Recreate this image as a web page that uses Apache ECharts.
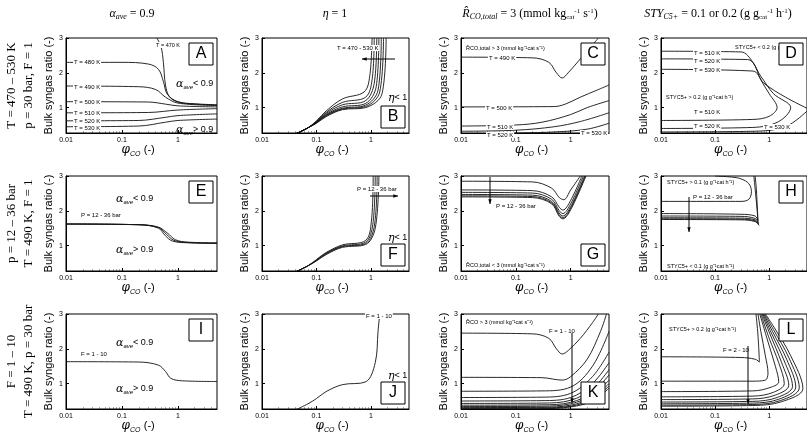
<!DOCTYPE html>
<html><head><meta charset="utf-8">
<script src="https://cdn.jsdelivr.net/npm/echarts@6/dist/echarts.min.js"></script>
<style>html,body{margin:0;padding:0;background:#fff}#c{width:807px;height:439px}</style>
</head><body><div id="c"></div>
<script>
// ---- data (phi_CO, bulk syngas ratio) ----
const xTicks = [0.01, 0.1, 1];
const yTicks = [1, 2, 3];
const rowTitles = [['T = 470 – 530 K', 'p = 30 bar, F = 1'], ['p = 12 – 36 bar', 'T = 490 K, F = 1'], ['F = 1 – 10', 'T = 490 K, p = 30 bar']];

const curvesA = [
 [[0.42,3],[0.5,2.75],[0.55,2.3],[0.6,1.65],[0.7,1.32],[1,1.16],[2,1.1],[5,1.07]],
 [[0.01,2.3],[0.1,2.3],[0.3,2.25],[0.45,2.1],[0.55,1.75],[0.65,1.38],[1,1.17],[2,1.11],[5,1.08]],
 [[0.01,1.62],[0.2,1.6],[0.4,1.52],[0.6,1.3],[1,1.13],[5,1.06]],
 [[0.01,1.17],[0.3,1.16],[0.6,1.1],[1,1.05],[5,1.02]],
 [[0.01,0.85],[0.3,0.86],[1,0.93],[5,0.97]],
 [[0.01,0.62],[0.2,0.63],[0.6,0.72],[1,0.77],[5,0.82]],
 [[0.01,0.45],[0.2,0.47],[0.6,0.58],[1,0.63],[5,0.67]]
];
const curvesB = [
 [[0.042,0.25],[0.07,0.42],[0.1,0.62],[0.15,0.9],[0.3,1.25],[0.75,1.45],[0.95,1.9],[1.05,3]],
 [[0.042,0.25],[0.07,0.42],[0.1,0.6],[0.15,0.86],[0.3,1.15],[0.8,1.3],[1.05,1.8],[1.15,3]],
 [[0.042,0.25],[0.07,0.42],[0.1,0.59],[0.15,0.83],[0.3,1.08],[0.8,1.2],[1.15,1.7],[1.28,3]],
 [[0.042,0.25],[0.07,0.42],[0.1,0.58],[0.15,0.8],[0.3,1.02],[0.8,1.12],[1.25,1.6],[1.4,3]],
 [[0.042,0.25],[0.07,0.42],[0.1,0.57],[0.15,0.78],[0.3,0.98],[0.8,1.07],[1.35,1.5],[1.55,3]],
 [[0.042,0.25],[0.07,0.42],[0.1,0.56],[0.15,0.76],[0.3,0.96],[0.8,1.03],[1.45,1.45],[1.7,3]],
 [[0.042,0.25],[0.07,0.42],[0.1,0.55],[0.15,0.74],[0.3,0.94],[0.8,1.0],[1.6,1.4],[1.9,3]]
];
const curvesC = [
 [[0.01,2.45],[0.2,2.43],[0.4,2.3],[0.55,2.0],[0.7,1.85],[0.9,2.0],[1.5,2.4],[2.5,2.8],[3.2,3.0]],
 [[0.01,1.02],[0.5,1.03],[0.8,1.1],[1.5,1.3],[3,1.5],[5,1.65]],
 [[0.01,0.47],[0.1,0.5],[0.3,0.58],[1,0.8],[2,1.0],[5,1.2]],
 [[0.01,0.32],[0.1,0.35],[0.5,0.45],[1.5,0.6],[5,0.85]],
 [[0.05,0.26],[0.5,0.3],[2,0.38],[5,0.55]]
];
const curvesD = [
 [[0.01,2.62],[0.3,2.6],[0.5,2.3],[0.7,1.8],[1.0,1.4],[1.4,1.0],[1.0,0.75],[0.5,0.66],[0.01,0.63]],
 [[0.01,2.4],[0.4,2.38],[0.7,1.9],[1.2,1.4],[2.5,1.0],[1.5,0.6],[0.5,0.43],[0.01,0.4]],
 [[0.01,2.1],[0.5,2.05],[0.8,1.7],[2,1.3],[5,0.98]],
 [[5,0.9],[2,0.45],[0.5,0.32],[0.01,0.3]]
];
const curvesE = [
 [[0.01,1.62],[0.2,1.6],[0.45,1.5],[0.6,1.28],[0.8,1.13],[1.5,1.08],[5,1.06]],
 [[0.01,1.62],[0.2,1.6],[0.45,1.52],[0.62,1.33],[0.85,1.15],[1.5,1.09],[5,1.07]],
 [[0.01,1.62],[0.2,1.6],[0.45,1.53],[0.65,1.36],[0.9,1.17],[1.5,1.1],[5,1.08]]
];
const curvesF = [
 [[0.042,0.25],[0.07,0.42],[0.1,0.6],[0.15,0.8],[0.3,1.02],[0.8,1.15],[1.02,1.7],[1.1,3]],
 [[0.042,0.25],[0.07,0.42],[0.1,0.58],[0.15,0.78],[0.3,0.99],[0.8,1.1],[1.08,1.6],[1.2,3]],
 [[0.042,0.25],[0.07,0.42],[0.1,0.57],[0.15,0.76],[0.3,0.97],[0.8,1.06],[1.15,1.55],[1.3,3]],
 [[0.042,0.25],[0.07,0.42],[0.1,0.56],[0.15,0.74],[0.3,0.95],[0.8,1.03],[1.2,1.5],[1.4,3]]
];
const curvesG = [
 [[0.01,2.85],[0.2,2.83],[0.45,2.65],[0.62,2.38],[0.75,2.32],[1,2.6],[1.5,3]],
 [[0.01,2.6],[0.2,2.58],[0.45,2.4],[0.62,2.1],[0.72,2.02],[1,2.3],[1.6,3]],
 [[0.01,2.53],[0.2,2.51],[0.45,2.33],[0.62,2.0],[0.72,1.92],[1,2.2],[1.7,3]],
 [[0.01,2.47],[0.2,2.45],[0.45,2.27],[0.62,1.93],[0.72,1.85],[1,2.12],[1.8,3]],
 [[0.01,2.43],[0.2,2.41],[0.45,2.23],[0.62,1.88],[0.72,1.8],[1,2.07],[1.85,3]],
 [[0.01,2.4],[0.2,2.38],[0.45,2.2],[0.62,1.84],[0.72,1.77],[1,2.03],[1.9,3]]
];
const curvesH = [
 [[0.01,2.27],[0.3,2.27],[0.42,2.33],[0.47,2.55],[0.42,2.78],[0.3,2.92],[0.2,2.97],[0.1,3]],
 [[0.52,3],[0.56,2.5],[0.6,2.0],[0.62,1.65]],
 [[0.01,1.92],[0.3,1.9],[0.55,1.85],[0.62,1.72],[0.58,2.6],[0.55,3]],
 [[0.01,1.85],[0.3,1.84],[0.55,1.78],[0.63,1.66]],
 [[0.01,1.8],[0.3,1.79],[0.55,1.74],[0.64,1.62]],
 [[0.01,1.77],[0.3,1.76],[0.55,1.71],[0.64,1.6]],
 [[0.01,1.75],[0.3,1.74],[0.55,1.69],[0.65,1.58]]
];
const curvesI = [
 [[0.01,1.63],[0.2,1.62],[0.45,1.53],[0.6,1.35],[0.75,1.15],[1.2,1.08],[5,1.06]]
];
const curvesJ = [
 [[0.042,0.25],[0.07,0.42],[0.1,0.57],[0.15,0.77],[0.3,0.97],[0.8,1.05],[1.2,1.6],[1.35,2.5],[1.45,3]]
];
const curvesK = [
 [[0.01,2.45],[0.2,2.43],[0.4,2.3],[0.55,2.0],[0.7,1.85],[0.9,1.95],[1.5,2.3],[2.5,2.75],[3.2,3.0]],
 [[0.01,1.18],[0.3,1.17],[0.7,1.1],[1,1.2],[2,1.7],[3.5,2.5],[4.5,3]],
 [[0.01,0.78],[0.3,0.79],[1,0.9],[2.5,1.5],[5,2.5]],
 [[0.01,0.6],[0.3,0.61],[1,0.72],[2.5,1.2],[5,1.9]],
 [[0.01,0.5],[0.3,0.51],[1,0.6],[2.5,1.0],[5,1.6]],
 [[0.01,0.43],[0.3,0.44],[1,0.52],[2.5,0.85],[5,1.4]],
 [[0.01,0.38],[0.3,0.39],[1,0.46],[2.5,0.75],[5,1.25]],
 [[0.01,0.34],[0.3,0.35],[1,0.42],[2.5,0.67],[5,1.1]],
 [[0.01,0.31],[0.3,0.32],[1,0.38],[2.5,0.6],[5,1.0]],
 [[0.01,0.29],[0.3,0.3],[1,0.35],[2.5,0.55],[5,0.93]],
 [[0.01,0.27],[0.3,0.28],[1,0.33],[2.5,0.5],[5,0.87]]
];
const curvesL = [
 [[0.01,1.77],[0.3,1.75],[0.55,1.7],[0.66,1.62],[0.62,2.4],[0.57,3]],
 [[0.01,1.07],[0.5,1.07],[0.85,1.1],[0.95,1.3],[0.85,1.8],[0.7,2.5],[0.62,3]],
 [[0.01,0.77],[0.5,0.79],[1.1,0.9],[1.5,1.05],[1.3,1.5],[0.95,2.2],[0.67,3]],
 [[0.01,0.62],[0.5,0.64],[1.2,0.75],[1.9,1.0],[1.5,1.6],[1.0,2.3],[0.7,3]],
 [[0.01,0.54],[0.5,0.56],[1.3,0.67],[2.3,0.95],[1.7,1.6],[1.05,2.4],[0.73,3]],
 [[0.01,0.47],[0.5,0.49],[1.4,0.6],[2.7,0.92],[1.9,1.65],[1.1,2.45],[0.76,3]],
 [[0.01,0.42],[0.5,0.44],[1.5,0.55],[3.1,0.9],[2.1,1.7],[1.15,2.5],[0.79,3]],
 [[0.01,0.38],[0.5,0.4],[1.6,0.51],[3.6,0.88],[2.3,1.75],[1.2,2.55],[0.82,3]],
 [[0.01,0.35],[0.5,0.37],[1.7,0.48],[4.2,0.86],[2.5,1.8],[1.25,2.6],[0.85,3]]
];
const panelCurves = [curvesA,curvesB,curvesC,curvesD,curvesE,curvesF,curvesG,curvesH,curvesI,curvesJ,curvesK,curvesL];
const panelLetters = ['A','B','C','D','E','F','G','H','I','J','K','L'];
const letterBottom = [false,true,false,false,false,true,true,false,false,true,true,false];

// ---- layout ----
const colLeft = [66, 262, 461, 661], colW = [151, 147, 148, 146];
const rowTop = [38, 176, 314], rowH = 95;

const grids = [], xAxes = [], yAxes = [], series = [], graphics = [];
const font = 'Liberation Sans, Arial, sans-serif';
for (let p = 0; p < 12; p++) {
  const r = Math.floor(p / 4), c = p % 4;
  grids.push({left: colLeft[c], top: rowTop[r], width: colW[c], height: rowH, show: true, borderColor: '#000', borderWidth: 1, containLabel: false});
  xAxes.push({type: 'log', gridIndex: p, min: 0.01, max: 5, logBase: 10,
    axisLine: {lineStyle: {color: '#000'}}, splitLine: {show: false},
    axisTick: {inside: true, length: 3, customValues: xTicks, lineStyle: {color: '#000'}},
    minorTick: {show: true, splitNumber: 9, length: 1.5, lineStyle: {color: '#555'}},
    axisLabel: {customValues: xTicks, fontSize: 7, margin: 4, color: '#000', fontFamily: font, formatter: v => String(v)}});
  yAxes.push({type: 'value', gridIndex: p, min: 0.27, max: 3,
    name: 'Bulk syngas ratio (-)', nameLocation: 'middle', nameGap: 12,
    nameTextStyle: {fontSize: 11, color: '#000', fontFamily: font},
    axisLine: {lineStyle: {color: '#000'}}, splitLine: {show: false},
    axisTick: {inside: true, length: 3, customValues: yTicks, lineStyle: {color: '#000'}},
    axisLabel: {customValues: yTicks, fontSize: 7, margin: 3, color: '#000', fontFamily: font}});
  panelCurves[p].forEach(cv => series.push({type: 'line', xAxisIndex: p, yAxisIndex: p, data: cv, smooth: 0.35,
    showSymbol: false, lineStyle: {color: '#111', width: 0.9}, silent: true, animation: false}));
  graphics.push({type: 'text', left: colLeft[c] + colW[c]/2 - 20, top: rowTop[r] + rowH + 11,
    style: {text: '{i|φ}{s|CO} {n|(-)}', rich: {i: {fontSize: 12, fontStyle: 'italic', fontFamily: 'DejaVu Serif'}, s: {fontSize: 7, fontStyle: 'italic', fontFamily: font, padding: [8,0,0,0]}, n: {fontSize: 11, fontFamily: font}}}});
  const bx = colLeft[c] + colW[c] - 28, by = letterBottom[p] ? rowTop[r] + rowH - 27 : rowTop[r] + 5;
  graphics.push({type: 'rect', shape: {x: bx, y: by, width: 24, height: 22}, style: {fill: '#fff', stroke: '#000', lineWidth: 1}, z: 10});
  graphics.push({type: 'text', x: bx + 12, y: by + 11, style: {text: panelLetters[p], fontSize: 16, fontFamily: font, fill: '#000', align: 'center', verticalAlign: 'middle'}, z: 11});
}

// titles
const titleX = [132, 335, 530, 718];
const rich = {i: {fontSize: 12, fontStyle: 'italic', fontFamily: 'Liberation Serif'}, s: {fontSize: 8, fontStyle: 'italic', fontFamily: 'Liberation Serif', padding: [6,0,0,0]}, n: {fontSize: 12, fontFamily: 'Liberation Serif'}, u: {fontSize: 7, fontFamily: 'Liberation Serif', padding: [0,0,6,0]}, d: {fontSize: 7, fontFamily: 'Liberation Serif', padding: [6,0,0,0]}};
['{i|α}{s|ave}{n| = 0.9}', '{i|η}{n| = 1}', '{i|R̂}{s|CO,total}{n| = 3 (mmol kg}{d|cat}{u|-1}{n| s}{u|-1}{n|)}', '{i|STY}{s|C5+}{n| = 0.1 or 0.2 (g g}{d|cat}{u|-1}{n| h}{u|-1}{n|)}'].forEach((txt, i) => {
  graphics.push({type: 'text', x: titleX[i], y: 14, style: {text: txt, rich, align: 'center', verticalAlign: 'middle', fill: '#000'}});
});
rowTitles.forEach((t, i) => {
  const cy = rowTop[i] + rowH / 2;
  [0,1].forEach(k => graphics.push({type: 'text', x: 12 + k * 17, y: cy, rotation: Math.PI / 2,
    style: {text: t[k], fontSize: 13, fontFamily: 'Liberation Serif', fill: '#000', align: 'center', verticalAlign: 'middle'}}));
});

const lab = (x,y,t,fs) => graphics.push({type:'text', x, y, style:{text:t, fontSize: fs||6, fontFamily: font, fill:'#000', backgroundColor:'#fff', padding:[0,1], verticalAlign:'middle'}, z: 5});
lab(73,62,'T = 480 K'); lab(73,87,'T = 490 K'); lab(73,102,'T = 500 K'); lab(73,113,'T = 510 K'); lab(73,121,'T = 520 K'); lab(73,128,'T = 530 K'); lab(155,45,'T = 470 K',5.5);
const greek = (x,y,sym,sub,rest,fs) => graphics.push({type:'text', x, y, style:{text:'{a|'+sym+'}{b|'+sub+'}{c|'+rest+'}', rich:{a:{fontSize:fs||11, fontStyle:'italic', fontFamily:'DejaVu Serif'}, b:{fontSize:6, fontStyle:'italic', fontFamily:font, padding:[6,0,0,0]}, c:{fontSize:9, fontFamily:font}}, verticalAlign:'middle'}, z:5});
greek(176,84,'α','ave','< 0.9'); greek(176,130,'α','ave','> 0.9');
greek(116,199,'α','ave','< 0.9'); greek(116,250,'α','ave','> 0.9');
greek(116,343,'α','ave','< 0.9'); greek(116,389,'α','ave','> 0.9');
greek(388,98,'η','','< 1'); greek(388,238,'η','','< 1'); greek(388,376,'η','','< 1');
lab(336,48,'T = 470 - 530 K',6); lab(356,189,'P = 12 - 36 bar',6); lab(365,316,'F = 1 - 10',6);
lab(465,48,'R̂CO,total > 3 (mmol kg⁻¹cat s⁻¹)',5.5); lab(488,58,'T = 490 K'); lab(485,108,'T = 500 K'); lab(486,127,'T = 510 K'); lab(486,135,'T = 520 K'); lab(580,133,'T = 530 K');
lab(693,53,'T = 510 K'); lab(693,61,'T = 520 K'); lab(693,70,'T = 530 K'); lab(734,47,'STYC5+ < 0.2 (g g⁻¹cat h⁻¹)',5.5);
lab(665,97,'STYC5+ > 0.2 (g g⁻¹cat h⁻¹)',5.5); lab(693,112,'T = 510 K'); lab(693,126,'T = 520 K'); lab(763,127,'T = 530 K');
lab(80,215,'P = 12 - 36 bar'); lab(495,206,'P = 12 - 36 bar'); lab(465,265,'R̂CO,total < 3 (mmol kg⁻¹cat s⁻¹)',5.5);
lab(666,182,'STYC5+ > 0.1 (g g⁻¹cat h⁻¹)',5.5); lab(692,197,'P = 12 - 36 bar'); lab(666,266,'STYC5+ < 0.1 (g g⁻¹cat h⁻¹)',5.5);
lab(80,354,'F = 1 - 10'); lab(465,322,'R̂CO > 3 (mmol kg⁻¹cat s⁻¹)',5.5); lab(548,331,'F = 1 - 10');
lab(668,329,'STYC5+ > 0.2 (g g⁻¹cat h⁻¹)',5.5); lab(722,350,'F = 2 - 10');
const arrow = (x1,y1,x2,y2) => { graphics.push({type:'line', shape:{x1,y1,x2,y2}, style:{stroke:'#000', lineWidth:1}, z:6});
  const a = Math.atan2(y2-y1,x2-x1), L=5;
  graphics.push({type:'polygon', shape:{points:[[x2,y2],[x2-L*Math.cos(a-0.35),y2-L*Math.sin(a-0.35)],[x2-L*Math.cos(a+0.35),y2-L*Math.sin(a+0.35)]]}, style:{fill:'#000'}, z:6}); };
arrow(395,59,362,59); arrow(370,196,398,196); arrow(490,177,490,204); arrow(689,197,689,232); arrow(572,333,572,403); arrow(748,346,748,404);

const chart = echarts.init(document.getElementById('c'), null, {renderer: 'canvas'});
chart.setOption({animation: false, backgroundColor: '#fff', grid: grids, xAxis: xAxes, yAxis: yAxes, series, graphic: graphics});
</script></body></html>
